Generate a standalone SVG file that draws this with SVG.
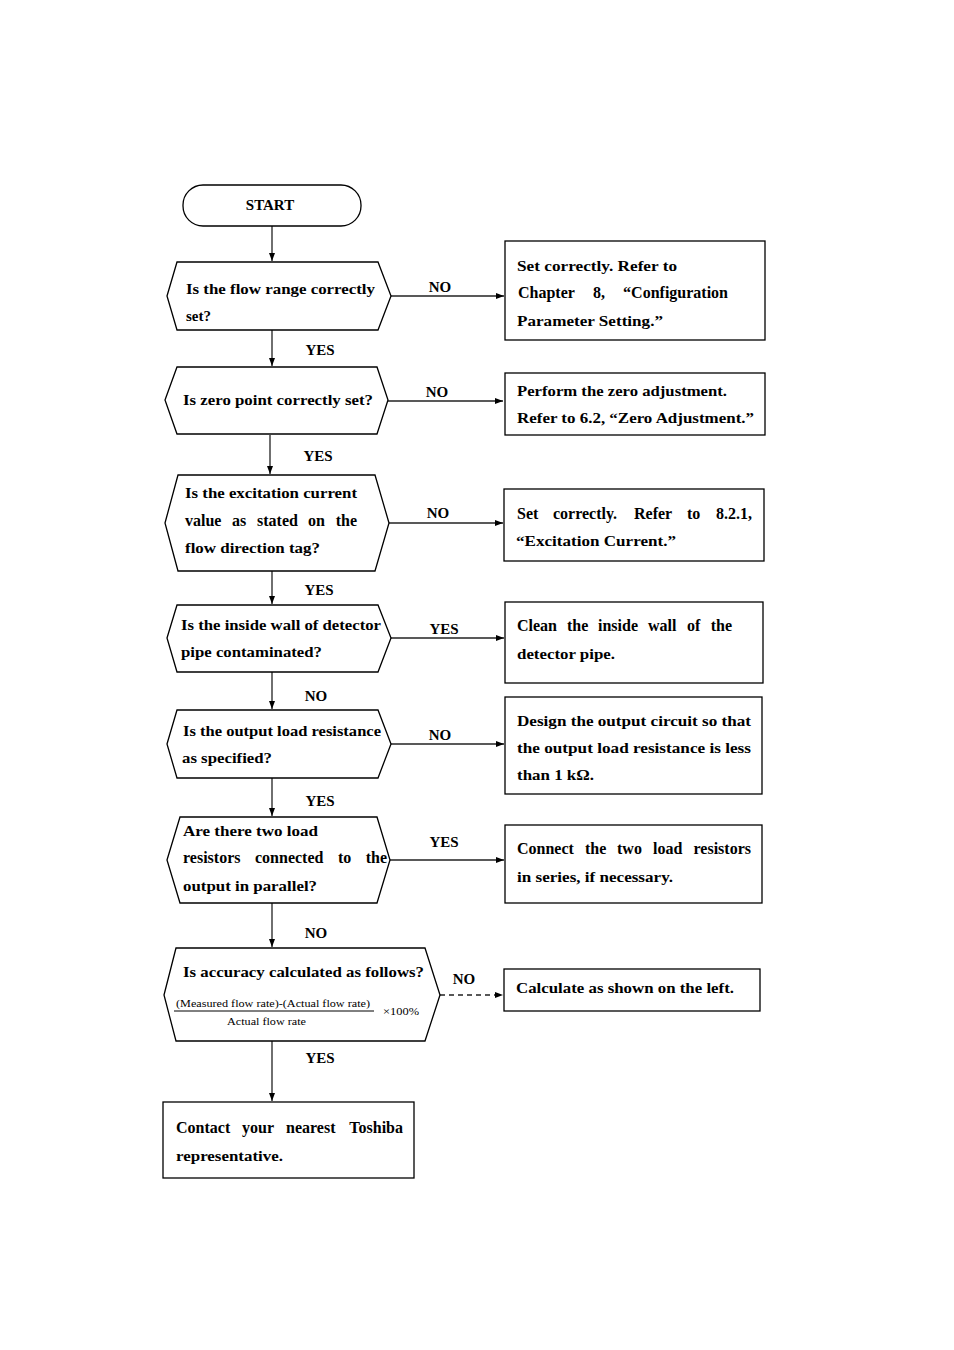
<svg xmlns="http://www.w3.org/2000/svg" width="954" height="1350" viewBox="0 0 954 1350">
<style>
.t{font-family:"Liberation Serif","Times New Roman",serif;font-weight:bold;font-size:15px;fill:#000}
.j{font-size:16px}
.s{font-family:"Liberation Serif","Times New Roman",serif;font-size:9.5px;fill:#000}
.shape{fill:#fff;stroke:#000;stroke-width:1.3}
.c{stroke:#222;stroke-width:1.3;fill:none}
.e{text-anchor:end}
</style>
<defs>
<marker id="ah" markerWidth="8" markerHeight="6" refX="8" refY="3" orient="auto" markerUnits="userSpaceOnUse">
<path d="M0,0 L8,3 L0,6 z" fill="#000"/>
</marker>
</defs>
<rect width="954" height="1350" fill="#fff"/>
<g id="connectors">
<line class="c" x1="272" y1="226" x2="272" y2="261" marker-end="url(#ah)"/>
<line class="c" x1="391" y1="296" x2="504" y2="296" marker-end="url(#ah)"/>
<text class="t" x="440" y="292" text-anchor="middle">NO</text>
<line class="c" x1="272" y1="330" x2="272" y2="366" marker-end="url(#ah)"/>
<text class="t" x="320" y="355" text-anchor="middle">YES</text>
<line class="c" x1="388" y1="401" x2="503" y2="401" marker-end="url(#ah)"/>
<text class="t" x="437" y="397" text-anchor="middle">NO</text>
<line class="c" x1="270" y1="435" x2="270" y2="474" marker-end="url(#ah)"/>
<text class="t" x="318" y="461" text-anchor="middle">YES</text>
<line class="c" x1="389" y1="523" x2="503" y2="523" marker-end="url(#ah)"/>
<text class="t" x="438" y="518" text-anchor="middle">NO</text>
<line class="c" x1="272" y1="571" x2="272" y2="604" marker-end="url(#ah)"/>
<text class="t" x="319" y="595" text-anchor="middle">YES</text>
<line class="c" x1="391" y1="638" x2="504" y2="638" marker-end="url(#ah)"/>
<text class="t" x="444" y="634" text-anchor="middle">YES</text>
<line class="c" x1="272" y1="672" x2="272" y2="709" marker-end="url(#ah)"/>
<text class="t" x="316" y="701" text-anchor="middle">NO</text>
<line class="c" x1="391" y1="744" x2="504" y2="744" marker-end="url(#ah)"/>
<text class="t" x="440" y="740" text-anchor="middle">NO</text>
<line class="c" x1="272" y1="778" x2="272" y2="816" marker-end="url(#ah)"/>
<text class="t" x="320" y="806" text-anchor="middle">YES</text>
<line class="c" x1="390" y1="860" x2="504" y2="860" marker-end="url(#ah)"/>
<text class="t" x="444" y="847" text-anchor="middle">YES</text>
<line class="c" x1="272" y1="903" x2="272" y2="947" marker-end="url(#ah)"/>
<text class="t" x="316" y="938" text-anchor="middle">NO</text>
<line class="c" x1="440" y1="995" x2="503" y2="995" stroke-dasharray="5,4" marker-end="url(#ah)"/>
<text class="t" x="464" y="984" text-anchor="middle">NO</text>
<line class="c" x1="272" y1="1041" x2="272" y2="1101" marker-end="url(#ah)"/>
<text class="t" x="320" y="1063" text-anchor="middle">YES</text>
</g>
<g id="start">
<rect class="shape" x="183" y="185" width="178" height="41" rx="20" ry="20"/>
<text class="t" x="270" y="210" text-anchor="middle">START</text>
</g>
<g id="q1">
<polygon class="shape" points="167,296 177,262 378,262 391,296 378,330 177,330"/>
<text class="t" x="186" y="294" textLength="189" lengthAdjust="spacingAndGlyphs">Is the flow range correctly</text>
<text class="t" x="186" y="321">set?</text>
</g>
<g id="a1">
<rect class="shape" x="505" y="241" width="260" height="99"/>
<text class="t" x="517" y="271" textLength="160" lengthAdjust="spacingAndGlyphs">Set correctly. Refer to</text>
<text class="t j" y="298"><tspan x="518">Chapter</tspan> <tspan x="593">8,</tspan> <tspan x="728" class="e">“Configuration</tspan></text>
<text class="t" x="517" y="326" textLength="146" lengthAdjust="spacingAndGlyphs">Parameter Setting.”</text>
</g>
<g id="q2">
<polygon class="shape" points="165,400 177,367 377,367 388,400 377,434 177,434"/>
<text class="t" x="183" y="405" textLength="190" lengthAdjust="spacingAndGlyphs">Is zero point correctly set?</text>
</g>
<g id="a2">
<rect class="shape" x="505" y="373" width="260" height="62"/>
<text class="t" x="517" y="396" textLength="210" lengthAdjust="spacingAndGlyphs">Perform the zero adjustment.</text>
<text class="t" x="517" y="423" textLength="237" lengthAdjust="spacingAndGlyphs">Refer to 6.2, “Zero Adjustment.”</text>
</g>
<g id="q3">
<polygon class="shape" points="165,523 178,475 375,475 389,523 375,571 178,571"/>
<text class="t" x="185" y="498" textLength="172" lengthAdjust="spacingAndGlyphs">Is the excitation current</text>
<text class="t j" y="526"><tspan x="185">value</tspan> <tspan x="232">as</tspan> <tspan x="257">stated</tspan> <tspan x="308">on</tspan> <tspan x="357" class="e">the</tspan></text>
<text class="t" x="185" y="553" textLength="135" lengthAdjust="spacingAndGlyphs">flow direction tag?</text>
</g>
<g id="a3">
<rect class="shape" x="504" y="489" width="260" height="72"/>
<text class="t j" y="519"><tspan x="517">Set</tspan> <tspan x="553">correctly.</tspan> <tspan x="634">Refer</tspan> <tspan x="687">to</tspan> <tspan x="752" class="e">8.2.1,</tspan></text>
<text class="t" x="516" y="546" textLength="160" lengthAdjust="spacingAndGlyphs">“Excitation Current.”</text>
</g>
<g id="q4">
<polygon class="shape" points="167,638 177,605 378,605 391,638 378,672 177,672"/>
<text class="t" x="181" y="630" textLength="200" lengthAdjust="spacingAndGlyphs">Is the inside wall of detector</text>
<text class="t" x="181" y="657" textLength="141" lengthAdjust="spacingAndGlyphs">pipe contaminated?</text>
</g>
<g id="a4">
<rect class="shape" x="505" y="602" width="258" height="81"/>
<text class="t j" y="631"><tspan x="517">Clean</tspan> <tspan x="567">the</tspan> <tspan x="598">inside</tspan> <tspan x="648">wall</tspan> <tspan x="687">of</tspan> <tspan x="732" class="e">the</tspan></text>
<text class="t" x="517" y="659" textLength="98" lengthAdjust="spacingAndGlyphs">detector pipe.</text>
</g>
<g id="q5">
<polygon class="shape" points="167,744 177,710 378,710 391,744 378,778 177,778"/>
<text class="t" x="183" y="736" textLength="198" lengthAdjust="spacingAndGlyphs">Is the output load resistance</text>
<text class="t" x="182" y="763" textLength="90" lengthAdjust="spacingAndGlyphs">as specified?</text>
</g>
<g id="a5">
<rect class="shape" x="505" y="697" width="257" height="97"/>
<text class="t" x="517" y="726" textLength="234" lengthAdjust="spacingAndGlyphs">Design the output circuit so that</text>
<text class="t" x="517" y="753" textLength="234" lengthAdjust="spacingAndGlyphs">the output load resistance is less</text>
<text class="t" x="517" y="780" textLength="77" lengthAdjust="spacingAndGlyphs">than 1 kΩ.</text>
</g>
<g id="q6">
<polygon class="shape" points="167,860 180,817 377,817 390,860 377,903 180,903"/>
<text class="t" x="183" y="836" textLength="135" lengthAdjust="spacingAndGlyphs">Are there two load</text>
<text class="t j" y="863"><tspan x="183">resistors</tspan> <tspan x="255">connected</tspan> <tspan x="338">to</tspan> <tspan x="387" class="e">the</tspan></text>
<text class="t" x="183" y="891" textLength="134" lengthAdjust="spacingAndGlyphs">output in parallel?</text>
</g>
<g id="a6">
<rect class="shape" x="505" y="825" width="257" height="78"/>
<text class="t j" y="854"><tspan x="517">Connect</tspan> <tspan x="585">the</tspan> <tspan x="617">two</tspan> <tspan x="653">load</tspan> <tspan x="751" class="e">resistors</tspan></text>
<text class="t" x="517" y="882" textLength="156" lengthAdjust="spacingAndGlyphs">in series, if necessary.</text>
</g>
<g id="q7">
<polygon class="shape" points="164,995 176,948 425,948 440,995 425,1041 176,1041"/>
<text class="t" x="183" y="977" textLength="241" lengthAdjust="spacingAndGlyphs">Is accuracy calculated as follows?</text>
<text class="s" x="176" y="1007" textLength="194" lengthAdjust="spacingAndGlyphs">(Measured flow rate)-(Actual flow rate)</text>
<line x1="174" y1="1011" x2="374" y2="1011" stroke="#000" stroke-width="1"/>
<text class="s" x="227" y="1025" textLength="79" lengthAdjust="spacingAndGlyphs">Actual flow rate</text>
<text class="s" x="383" y="1015" textLength="36" lengthAdjust="spacingAndGlyphs" style="font-size:11px">×100%</text>
</g>
<g id="a7">
<rect class="shape" x="504" y="969" width="256" height="42"/>
<text class="t" x="516" y="993" textLength="218" lengthAdjust="spacingAndGlyphs">Calculate as shown on the left.</text>
</g>
<g id="end">
<rect class="shape" x="163" y="1102" width="251" height="76"/>
<text class="t j" y="1133"><tspan x="176">Contact</tspan> <tspan x="242">your</tspan> <tspan x="286">nearest</tspan> <tspan x="403" class="e">Toshiba</tspan></text>
<text class="t" x="176" y="1161" textLength="107" lengthAdjust="spacingAndGlyphs">representative.</text>
</g>
</svg>
